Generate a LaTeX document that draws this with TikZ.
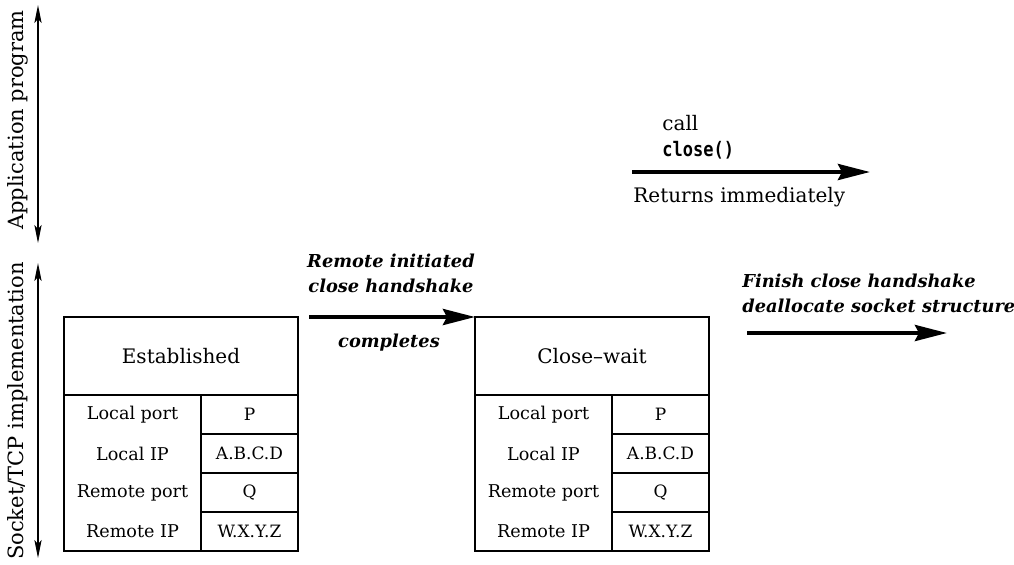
\documentclass[tikz,border=0pt]{standalone}
\usepackage{fontspec}
\setmainfont{DejaVu Serif}
\newfontfamily\codefont[FakeStretch=0.85]{DejaVu Sans Mono}
\usetikzlibrary{arrows.meta}
\newcommand{\tblhdrh}{39pt}
\newcommand{\tblrowh}{19.5pt}
\newcommand{\tblrowhh}{9.75pt}
\newcommand{\tblkeyw}{68.5pt}
\newcommand{\tblvalw}{48.5pt}
\newcommand{\tbltop}{317}
\newcommand{\socktable}[3]{
  \node[statecell, anchor=north west] (#1) at (#2, \tbltop) {#3};
  \node[keycol, anchor=north west] (#1keys) at (#1.south west) {};
  \node[keytext] (#1lport) at ([yshift=-\tblrowhh]#1keys.north) {Local port};
  \node[keytext] (#1lip) at ([yshift=-\tblrowhh-\tblrowh]#1keys.north) {Local IP};
  \node[keytext] (#1rport) at ([yshift=\tblrowhh+\tblrowh]#1keys.south) {Remote port};
  \node[keytext] (#1rip) at ([yshift=\tblrowhh]#1keys.south) {Remote IP};
  \node[valcell, anchor=north west] (#1lportv) at (#1keys.north east) {P};
  \node[valcell, anchor=north] (#1lipv) at (#1lportv.south) {A.B.C.D};
  \node[valcell, anchor=north] (#1rportv) at (#1lipv.south) {Q};
  \node[valcell, anchor=north] (#1ripv) at (#1rportv.south) {W.X.Y.Z};
}
\tikzset{
  statecell/.style={draw, line width=0.7pt, outer sep=0pt, inner sep=0pt,
    minimum width=\tblkeyw+\tblvalw, minimum height=\tblhdrh,
    font=\fontsize{10}{12}\selectfont},
  keycol/.style={draw, line width=0.7pt, outer sep=0pt, inner sep=0pt,
    minimum width=\tblkeyw, minimum height=4*\tblrowh},
  keytext/.style={inner sep=0pt, font=\fontsize{8.8}{10}\selectfont},
  valcell/.style={draw, line width=0.7pt, outer sep=0pt, inner sep=0pt,
    minimum width=\tblvalw, minimum height=\tblrowh,
    font=\fontsize{8.5}{10}\selectfont},
  bigarrow/.style={-{Stealth[length=16pt,width=8pt,inset=2pt]}, line width=2pt},
  layerarrow/.style={{Stealth[length=9pt,width=3.6pt,inset=2pt]}-{Stealth[length=9pt,width=3.6pt,inset=2pt]},
    line width=0.6pt},
  eventtext/.style={font=\fontsize{8.9}{12.5}\selectfont\bfseries\itshape, inner sep=0pt},
  plaintext/.style={font=\fontsize{10}{13}\selectfont, inner sep=0pt},
  sidetext/.style={font=\fontsize{10.5}{13}\selectfont, inner sep=0pt},
}
\begin{document}
\begin{tikzpicture}[x=0.5pt, y=-0.5pt]
  \useasboundingbox (0,0) rectangle (1014,564);

  % layers on the left
  \node[sidetext, rotate=90] (applabel) at (18,120) {Application program};
  \node[sidetext, rotate=90] (tcplabel) at (18,411) {Socket/TCP implementation};
  \coordinate (apptop) at (38,5);
  \coordinate (appbot) at (38,243);
  \coordinate (tcptop) at (38,263);
  \coordinate (tcpbot) at (38,558);
  \draw[layerarrow] (apptop) -- (appbot);
  \draw[layerarrow] (tcptop) -- (tcpbot);

  % socket structures
  \socktable{est}{64}{Established}
  \socktable{cw}{475}{Close--wait}

  % remote close
  \node[eventtext, align=center, anchor=north] (rcvtext) at (391,254)
    {Remote initiated\\close handshake};
  \node[eventtext, anchor=base] (donetext) at (389,347) {completes};
  \coordinate (rcvstart) at (309,\tbltop);
  \draw[bigarrow] (rcvstart) -- (cw.north west);

  % application call
  \node[plaintext, align=left, anchor=north west] (calltext) at (662,115)
    {call\\{\codefont\bfseries close()}};
  \node[plaintext, anchor=north west] (rettext) at (633,187) {Returns immediately};
  \coordinate (callstart) at (632,172);
  \coordinate (callend) at (870,172);
  \draw[bigarrow] (callstart) -- (callend);

  % final close
  \node[eventtext, align=left, anchor=north west] (fintext) at (742,274)
    {Finish close handshake\\deallocate socket structure};
  \coordinate (finstart) at (747,333);
  \coordinate (finend) at (947,333);
  \draw[bigarrow] (finstart) -- (finend);
\end{tikzpicture}
\end{document}
